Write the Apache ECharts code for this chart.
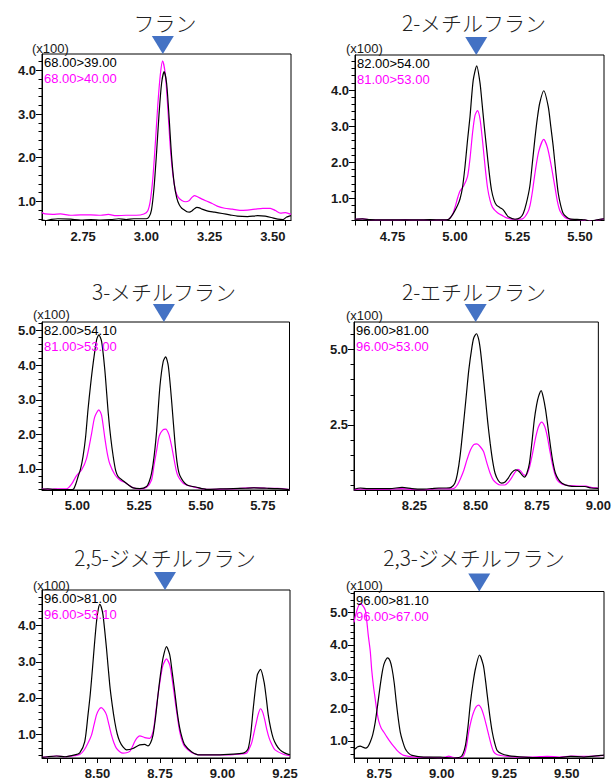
<!DOCTYPE html>
<html>
<head>
<meta charset="utf-8">
<script src="https://cdn.jsdelivr.net/npm/echarts@6/dist/echarts.min.js"></script>
<style>
html, body { margin: 0; padding: 0; background: #fff; }
#main { width: 614px; height: 783px; }
</style>
</head>
<body>
<div id="main"></div>
<script>
// compound names and MRM transitions (black = quant, magenta = ref)
var titles = ['フラン', '2-メチルフラン', '3-メチルフラン', '2-エチルフラン', '2,5-ジメチルフラン', '2,3-ジメチルフラン'];
var blackNames = ['68.00>39.00', '82.00>54.00', '82.00>54.10', '96.00>81.00', '96.00>81.00', '96.00>81.10'];
var pinkNames = ['68.00>40.00', '81.00>53.00', '81.00>53.00', '96.00>53.00', '96.00>53.10', '96.00>67.00'];
var retTimes = [3.065, 5.085, 5.35, 8.50, 8.77, 9.15];
var unitLabel = '(x100)';

// axis windows and tick labels
var xRanges = [[2.587, 3.572], [4.60, 5.596], [4.857, 5.858], [8.004, 9.0], [8.278, 9.27], [8.649, 9.649]];
var yRanges = [[0.56, 4.376], [0.385, 4.97], [0.39, 5.25], [0.333, 5.92], [0.335, 4.99], [0.47, 5.66]];
var xLabels = [[2.75, 3.00, 3.25, 3.50], [4.75, 5.00, 5.25, 5.50], [5.00, 5.25, 5.50, 5.75], [8.25, 8.50, 8.75, 9.00], [8.50, 8.75, 9.00, 9.25], [8.75, 9.00, 9.25, 9.50]];
var yLabels = [[1, 2, 3, 4], [1, 2, 3, 4], [1, 2, 3, 4, 5], [2.5, 5.0], [1, 2, 3, 4], [1, 2, 3, 4, 5]];
var yMinorStep = [0.2, 0.2, 0.2, 0.5, 0.2, 0.2];
var xMinorStep = 0.05;

// traces [time(min), intensity(x100)]
var furanBlack = [[2.587,0.57],[2.60,0.56],[2.62,0.58],[2.65,0.60],[2.70,0.59],[2.74,0.57],[2.78,0.58],[2.82,0.57],[2.86,0.58],[2.89,0.60],[2.92,0.58],[2.95,0.60],[2.98,0.60],[3.00,0.60],[3.01,0.64],[3.02,0.80],[3.03,1.30],[3.04,2.10],[3.05,3.00],[3.06,3.70],[3.07,3.97],[3.08,3.70],[3.09,2.90],[3.10,2.00],[3.11,1.40],[3.12,1.08],[3.13,0.92],[3.14,0.84],[3.15,0.80],[3.16,0.76],[3.17,0.75],[3.18,0.78],[3.19,0.83],[3.20,0.86],[3.21,0.85],[3.22,0.82],[3.24,0.78],[3.27,0.75],[3.30,0.72],[3.33,0.69],[3.36,0.66],[3.40,0.65],[3.44,0.67],[3.47,0.66],[3.50,0.62],[3.52,0.59],[3.54,0.58],[3.555,0.64],[3.572,0.67]];
var furanPink = [[2.587,0.74],[2.60,0.71],[2.63,0.70],[2.66,0.71],[2.70,0.68],[2.74,0.69],[2.78,0.69],[2.82,0.68],[2.85,0.70],[2.88,0.67],[2.92,0.68],[2.96,0.68],[2.99,0.71],[3.005,0.78],[3.015,1.00],[3.025,1.50],[3.035,2.30],[3.045,3.20],[3.055,3.90],[3.064,4.22],[3.075,3.90],[3.085,3.10],[3.095,2.20],[3.105,1.60],[3.115,1.25],[3.125,1.10],[3.14,1.02],[3.155,0.99],[3.17,1.02],[3.18,1.09],[3.19,1.13],[3.20,1.11],[3.22,1.05],[3.24,1.00],[3.26,0.95],[3.28,0.89],[3.31,0.84],[3.34,0.82],[3.37,0.79],[3.40,0.80],[3.43,0.82],[3.46,0.84],[3.49,0.84],[3.51,0.79],[3.53,0.73],[3.55,0.74],[3.572,0.70]];

var mf2Black = [[4.60,0.42],[4.63,0.43],[4.66,0.41],[4.70,0.40],[4.75,0.40],[4.80,0.40],[4.85,0.40],[4.90,0.41],[4.95,0.40],[4.975,0.42],[4.994,0.59],[5.01,0.80],[5.02,0.98],[5.03,1.30],[5.04,1.88],[5.05,2.60],[5.06,3.26],[5.073,4.28],[5.087,4.67],[5.10,4.20],[5.107,3.72],[5.117,3.00],[5.127,2.34],[5.137,1.70],[5.146,1.23],[5.156,0.95],[5.166,0.81],[5.18,0.74],[5.193,0.68],[5.205,0.56],[5.213,0.49],[5.24,0.42],[5.26,0.46],[5.273,0.58],[5.285,0.85],[5.299,1.32],[5.309,1.95],[5.319,2.61],[5.329,3.20],[5.339,3.64],[5.355,3.98],[5.373,3.54],[5.383,3.00],[5.393,2.43],[5.403,1.75],[5.413,1.14],[5.423,0.80],[5.433,0.58],[5.446,0.48],[5.459,0.43],[5.50,0.41],[5.52,0.40],[5.539,0.37],[5.56,0.39],[5.579,0.42],[5.596,0.43]];
var mf2Pink = [[4.60,0.42],[4.63,0.43],[4.66,0.41],[4.70,0.40],[4.75,0.40],[4.80,0.41],[4.85,0.40],[4.90,0.41],[4.95,0.40],[4.975,0.42],[4.99,0.55],[5.00,0.75],[5.01,1.00],[5.02,1.20],[5.035,1.35],[5.05,1.60],[5.06,2.10],[5.07,2.80],[5.08,3.30],[5.09,3.43],[5.10,3.20],[5.11,2.60],[5.12,1.90],[5.13,1.30],[5.14,0.95],[5.15,0.75],[5.17,0.60],[5.19,0.52],[5.21,0.45],[5.24,0.42],[5.27,0.43],[5.29,0.60],[5.30,0.80],[5.31,1.20],[5.32,1.70],[5.335,2.30],[5.355,2.63],[5.37,2.40],[5.385,1.90],[5.40,1.30],[5.41,0.90],[5.42,0.65],[5.44,0.47],[5.46,0.42],[5.50,0.41],[5.53,0.38],[5.55,0.37],[5.57,0.40],[5.596,0.43]];

var mf3Black = [[4.857,0.41],[4.88,0.42],[4.90,0.41],[4.93,0.40],[4.96,0.40],[4.983,0.41],[4.993,0.55],[5.003,0.78],[5.013,1.00],[5.023,1.36],[5.033,1.90],[5.043,2.71],[5.053,3.40],[5.064,4.06],[5.078,4.74],[5.087,4.88],[5.098,4.69],[5.111,3.87],[5.125,2.61],[5.135,1.90],[5.145,1.36],[5.155,0.95],[5.165,0.78],[5.185,0.66],[5.206,0.54],[5.226,0.45],[5.253,0.43],[5.280,0.49],[5.29,0.62],[5.300,0.87],[5.311,1.40],[5.321,2.13],[5.334,3.39],[5.347,4.10],[5.357,4.24],[5.368,3.97],[5.382,2.90],[5.395,1.74],[5.405,1.10],[5.415,0.80],[5.442,0.54],[5.483,0.47],[5.523,0.41],[5.577,0.42],[5.631,0.43],[5.68,0.44],[5.712,0.45],[5.767,0.44],[5.81,0.43],[5.848,0.41],[5.858,0.40]];
var mf3Pink = [[4.857,0.42],[4.89,0.41],[4.915,0.42],[4.956,0.42],[4.976,0.55],[4.996,0.80],[5.017,0.97],[5.037,1.30],[5.057,2.00],[5.070,2.50],[5.087,2.71],[5.098,2.55],[5.111,1.90],[5.121,1.45],[5.131,1.15],[5.152,0.83],[5.172,0.68],[5.199,0.58],[5.226,0.45],[5.253,0.42],[5.280,0.47],[5.300,0.68],[5.310,1.10],[5.321,1.55],[5.331,1.95],[5.345,2.12],[5.357,2.15],[5.370,2.00],[5.38,1.70],[5.388,1.40],[5.40,0.95],[5.408,0.78],[5.429,0.58],[5.469,0.48],[5.523,0.41],[5.60,0.42],[5.65,0.43],[5.712,0.46],[5.767,0.44],[5.81,0.44],[5.858,0.40]];

var ef2Black = [[8.004,0.36],[8.03,0.40],[8.06,0.38],[8.10,0.38],[8.15,0.38],[8.20,0.42],[8.24,0.38],[8.28,0.36],[8.32,0.38],[8.35,0.40],[8.38,0.40],[8.40,0.42],[8.415,0.56],[8.425,0.85],[8.437,1.50],[8.452,2.67],[8.462,3.50],[8.472,4.33],[8.485,5.10],[8.492,5.39],[8.503,5.53],[8.512,5.35],[8.519,5.00],[8.529,4.25],[8.539,3.44],[8.549,2.60],[8.559,1.89],[8.569,1.30],[8.579,0.89],[8.592,0.65],[8.605,0.56],[8.62,0.60],[8.632,0.72],[8.648,0.92],[8.663,1.00],[8.677,0.95],[8.690,0.82],[8.699,0.76],[8.709,0.90],[8.719,1.22],[8.729,1.90],[8.739,2.67],[8.748,3.15],[8.756,3.44],[8.767,3.64],[8.776,3.40],[8.785,3.00],[8.795,2.40],[8.805,1.78],[8.815,1.25],[8.825,0.89],[8.838,0.68],[8.852,0.56],[8.879,0.47],[8.91,0.45],[8.945,0.45],[8.97,0.40],[9.0,0.39]];
var ef2Pink = [[8.004,0.34],[8.03,0.37],[8.06,0.36],[8.10,0.35],[8.15,0.36],[8.20,0.38],[8.24,0.35],[8.28,0.34],[8.32,0.36],[8.35,0.38],[8.38,0.37],[8.41,0.38],[8.425,0.50],[8.44,0.75],[8.452,1.00],[8.465,1.35],[8.479,1.67],[8.492,1.84],[8.505,1.87],[8.518,1.78],[8.532,1.61],[8.545,1.25],[8.559,0.89],[8.572,0.66],[8.585,0.56],[8.60,0.50],[8.619,0.50],[8.632,0.58],[8.645,0.72],[8.660,0.92],[8.672,1.02],[8.684,0.96],[8.695,0.84],[8.705,0.82],[8.718,1.05],[8.732,1.56],[8.745,2.10],[8.757,2.45],[8.769,2.59],[8.781,2.45],[8.792,2.11],[8.802,1.65],[8.812,1.22],[8.822,0.88],[8.832,0.67],[8.848,0.55],[8.865,0.50],[8.90,0.47],[8.95,0.46],[8.97,0.42],[9.0,0.40]];

var dmf25Black = [[8.278,0.35],[8.30,0.37],[8.336,0.39],[8.37,0.37],[8.409,0.42],[8.429,0.48],[8.449,0.79],[8.462,1.53],[8.471,2.10],[8.480,2.82],[8.488,3.50],[8.496,4.11],[8.503,4.45],[8.509,4.59],[8.515,4.52],[8.522,4.30],[8.536,3.37],[8.549,2.36],[8.559,1.80],[8.569,1.34],[8.579,1.00],[8.589,0.79],[8.602,0.64],[8.616,0.56],[8.642,0.60],[8.669,0.70],[8.689,0.71],[8.702,0.67],[8.712,0.75],[8.722,0.97],[8.732,1.45],[8.742,2.08],[8.752,2.65],[8.762,3.10],[8.776,3.42],[8.789,3.19],[8.799,2.70],[8.809,2.17],[8.819,1.60],[8.829,1.16],[8.839,0.88],[8.849,0.70],[8.876,0.51],[8.909,0.42],[8.976,0.42],[9.043,0.44],[9.083,0.47],[9.095,0.52],[9.103,0.60],[9.113,1.00],[9.123,1.71],[9.139,2.63],[9.152,2.79],[9.166,2.45],[9.175,2.00],[9.183,1.53],[9.193,1.15],[9.203,0.88],[9.215,0.70],[9.230,0.56],[9.25,0.47],[9.27,0.42]];
var dmf25Pink = [[8.278,0.35],[8.30,0.37],[8.336,0.39],[8.37,0.37],[8.409,0.40],[8.429,0.43],[8.446,0.55],[8.462,0.75],[8.476,0.97],[8.486,1.25],[8.496,1.53],[8.506,1.68],[8.515,1.73],[8.526,1.66],[8.536,1.53],[8.546,1.25],[8.556,0.97],[8.566,0.75],[8.576,0.60],[8.589,0.51],[8.602,0.47],[8.616,0.48],[8.629,0.52],[8.639,0.64],[8.649,0.79],[8.659,0.90],[8.669,0.95],[8.689,0.90],[8.709,0.88],[8.717,0.95],[8.725,1.16],[8.733,1.60],[8.742,2.08],[8.752,2.55],[8.762,2.91],[8.776,3.08],[8.789,2.91],[8.799,2.50],[8.809,1.99],[8.819,1.50],[8.829,1.06],[8.839,0.80],[8.849,0.65],[8.876,0.49],[8.909,0.42],[8.976,0.42],[9.043,0.43],[9.096,0.47],[9.106,0.58],[9.116,0.74],[9.125,1.00],[9.133,1.25],[9.143,1.55],[9.152,1.70],[9.161,1.60],[9.169,1.39],[9.178,1.10],[9.187,0.88],[9.198,0.70],[9.210,0.56],[9.243,0.44],[9.27,0.40]];

var dmf23Black = [[8.649,0.74],[8.654,0.76],[8.664,0.82],[8.674,0.84],[8.684,0.81],[8.694,0.78],[8.704,0.82],[8.714,0.97],[8.724,1.20],[8.734,1.59],[8.744,2.15],[8.754,2.74],[8.762,3.15],[8.770,3.42],[8.784,3.59],[8.793,3.50],[8.801,3.26],[8.810,2.80],[8.818,2.22],[8.826,1.70],[8.834,1.28],[8.844,0.98],[8.854,0.76],[8.867,0.62],[8.881,0.55],[8.928,0.50],[8.995,0.50],[9.035,0.47],[9.075,0.50],[9.085,0.60],[9.095,0.87],[9.105,1.45],[9.115,2.22],[9.125,2.80],[9.135,3.26],[9.151,3.68],[9.166,3.37],[9.174,2.95],[9.182,2.43],[9.192,1.80],[9.202,1.28],[9.212,0.93],[9.222,0.70],[9.24,0.60],[9.262,0.55],[9.329,0.50],[9.395,0.48],[9.462,0.48],[9.515,0.52],[9.569,0.50],[9.636,0.55],[9.649,0.56]];
var dmf23Pink = [[8.649,4.70],[8.654,4.88],[8.664,5.15],[8.674,5.29],[8.684,5.22],[8.694,5.08],[8.700,4.75],[8.706,4.30],[8.714,3.80],[8.720,3.20],[8.727,2.70],[8.734,2.30],[8.741,1.90],[8.748,1.62],[8.758,1.40],[8.768,1.28],[8.781,1.12],[8.794,0.97],[8.808,0.83],[8.821,0.71],[8.835,0.61],[8.848,0.55],[8.888,0.50],[8.95,0.49],[8.995,0.48],[9.015,0.50],[9.028,0.53],[9.04,0.50],[9.055,0.48],[9.075,0.48],[9.088,0.55],[9.098,0.80],[9.108,1.28],[9.118,1.65],[9.128,1.91],[9.138,2.07],[9.148,2.12],[9.158,2.02],[9.168,1.80],[9.178,1.50],[9.188,1.18],[9.198,0.88],[9.208,0.66],[9.22,0.58],[9.234,0.55],[9.30,0.50],[9.36,0.50],[9.422,0.52],[9.47,0.50],[9.52,0.53],[9.58,0.52],[9.649,0.55]];

var blackTraces = [furanBlack, mf2Black, mf3Black, ef2Black, dmf25Black, dmf23Black];
var pinkTraces = [furanPink, mf2Pink, mf3Pink, ef2Pink, dmf25Pink, dmf23Pink];

// layout (pixels)
var grids = [
    { left: 42, top: 54, width: 249, height: 166.5 },
    { left: 355, top: 55, width: 249, height: 165.5 },
    { left: 42, top: 322, width: 247.5, height: 168 },
    { left: 354, top: 322, width: 250, height: 168 },
    { left: 42, top: 590, width: 248, height: 168 },
    { left: 354, top: 591.5, width: 250, height: 166.5 }
];
var titlePos = [[165, 22], [474, 22], [164, 291], [474, 291], [165, 557], [474, 557]];
var unitPos = [[32, 48], [346, 48], [33, 314], [346, 315], [33, 585], [346, 585]];

var axisFont = 'Liberation Sans, Arial, sans-serif';
var jpFont = 'Noto Sans CJK JP';

function steps(min, max, step) {
    var out = [];
    var k = Math.ceil(min / step - 1e-6);
    while (k * step <= max + 1e-9) {
        out.push(+(k * step).toFixed(3));
        k++;
    }
    return out;
}

var chart = echarts.init(document.getElementById('main'), null, { renderer: 'svg' });

var option = {
    animation: false,
    backgroundColor: '#fff',
    grid: [],
    xAxis: [],
    yAxis: [],
    legend: [],
    series: [],
    graphic: []
};

for (var i = 0; i < 6; i++) {
    var g = grids[i];
    option.grid.push({
        left: g.left, top: g.top, width: g.width, height: g.height,
        show: true, borderColor: '#000', borderWidth: 1
    });
    option.xAxis.push({
        type: 'value', gridIndex: i,
        min: xRanges[i][0], max: xRanges[i][1],
        axisLine: { lineStyle: { color: '#000', width: 1 } },
        axisTick: { customValues: steps(xRanges[i][0], xRanges[i][1], xMinorStep), length: 5, lineStyle: { color: '#000' } },
        axisLabel: {
            customValues: xLabels[i], showMinLabel: true, showMaxLabel: true,
            formatter: function (v) { return v.toFixed(2); },
            color: '#1a1a1a', fontFamily: axisFont, fontWeight: 'bold', fontSize: 13, margin: 9
        },
        splitLine: { show: false }
    });
    // main y axis: labelled ticks
    option.yAxis.push({
        type: 'value', gridIndex: i, position: 'left',
        min: yRanges[i][0], max: yRanges[i][1],
        axisLine: { show: true, lineStyle: { color: '#000', width: 1 } },
        axisTick: { customValues: yLabels[i], length: 6, lineStyle: { color: '#000' } },
        axisLabel: {
            customValues: yLabels[i],
            formatter: function (v) { return v.toFixed(1); },
            color: '#1a1a1a', fontFamily: axisFont, fontWeight: 'bold', fontSize: 13, margin: 6
        },
        splitLine: { show: false }
    });
    // second y axis only for the short minor ticks
    var majors = yLabels[i];
    var minors = steps(yRanges[i][0], yRanges[i][1], yMinorStep[i]).filter(function (v) {
        return majors.indexOf(v) < 0;
    });
    option.yAxis.push({
        type: 'value', gridIndex: i, position: 'left', offset: 0,
        min: yRanges[i][0], max: yRanges[i][1],
        axisLine: { show: false },
        axisTick: { show: true, customValues: minors, length: 3.5, lineStyle: { color: '#000' } },
        axisLabel: { show: false },
        splitLine: { show: false }
    });

    option.series.push({
        name: pinkNames[i], type: 'line', xAxisIndex: i, yAxisIndex: 2 * i,
        data: pinkTraces[i], showSymbol: false, smooth: 0.25,
        lineStyle: { color: '#ff00ff', width: 1.2 }, itemStyle: { color: '#ff00ff' }
    });
    option.series.push({
        name: blackNames[i], type: 'line', xAxisIndex: i, yAxisIndex: 2 * i,
        data: blackTraces[i], showSymbol: false, smooth: 0.25,
        lineStyle: { color: '#000', width: 1.2 }, itemStyle: { color: '#000' },
        markPoint: {
            silent: true,
            symbol: 'path://M0,0L22,0L11,18Z',
            symbolSize: [22, 18],
            symbolOffset: [0, -9],
            itemStyle: { color: '#4472c4' },
            label: { show: false },
            data: [{ coord: [retTimes[i], yRanges[i][1]] }]
        }
    });

    option.legend.push({
        left: g.left - 4, top: g.top + 1,
        orient: 'vertical', padding: 0, itemGap: 1,
        itemWidth: 0, itemHeight: 0, selectedMode: false,
        textStyle: { fontFamily: axisFont, fontSize: 13, lineHeight: 15 },
        data: [
            { name: blackNames[i], textStyle: { color: '#000' } },
            { name: pinkNames[i], textStyle: { color: '#ff00ff' } }
        ]
    });

    option.graphic.push({
        type: 'text', x: titlePos[i][0], y: titlePos[i][1],
        style: {
            text: titles[i], fill: '#222', font: '300 21px "' + jpFont + '"',
            textAlign: 'center', textVerticalAlign: 'middle'
        }
    });
    option.graphic.push({
        type: 'text', x: unitPos[i][0], y: unitPos[i][1],
        style: {
            text: unitLabel, fill: '#1a1a1a', font: '13px ' + axisFont,
            textAlign: 'left', textVerticalAlign: 'middle'
        }
    });
}

chart.setOption(option);
</script>
</body>
</html>
